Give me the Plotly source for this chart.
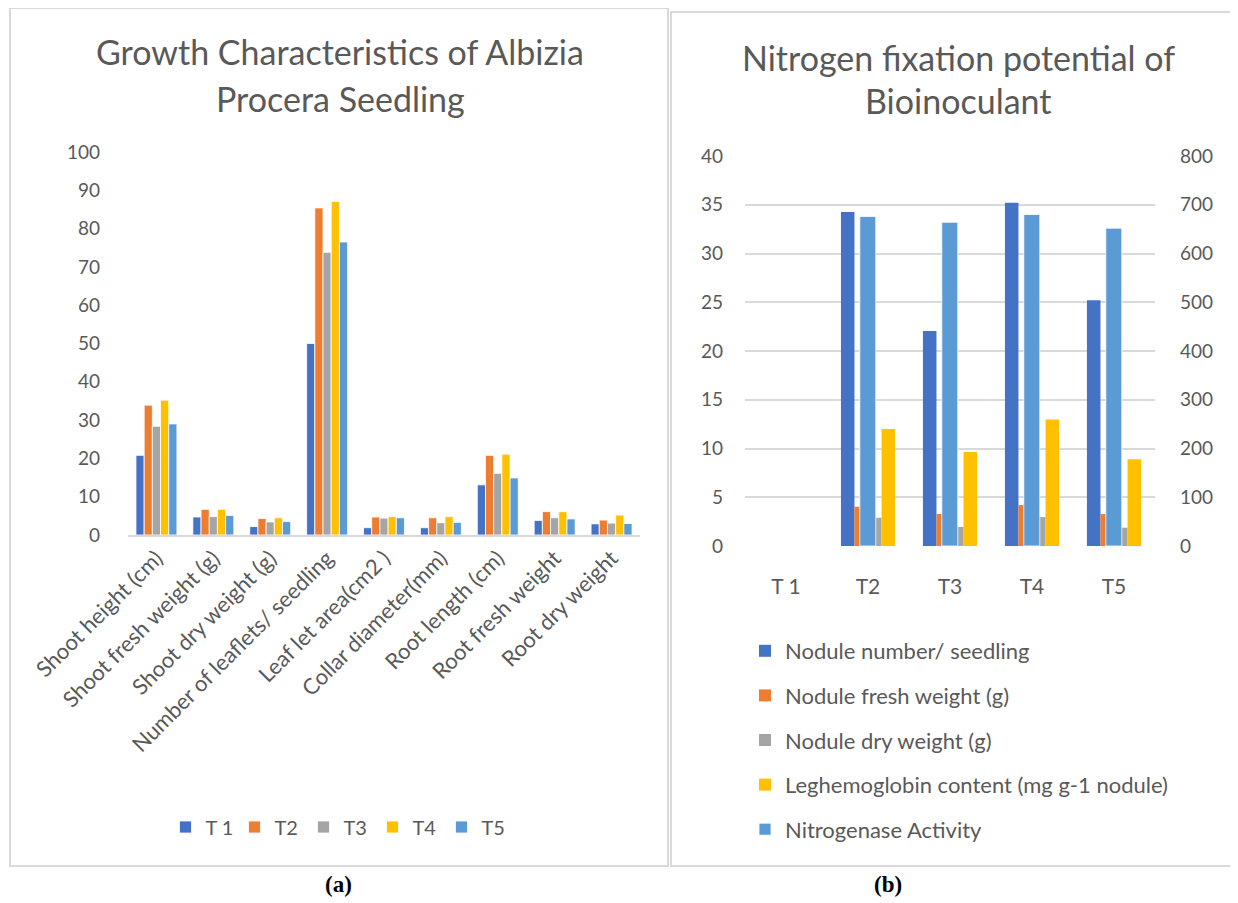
import plotly.graph_objects as go

# ---------------- data: chart (a) ----------------
growth_categories = ["Shoot height (cm)", "Shoot fresh weight (g)", "Shoot dry weight (g)",
                     "Number of leaflets/ seedling", "Leaf let area(cm2 )", "Collar diameter(mm)",
                     "Root length (cm)", "Root fresh weight", "Root dry weight"]
growth_series = ["T 1", "T2", "T3", "T4", "T5"]
growth_T1 = [20.8, 4.7, 2.2, 50.0, 1.9, 1.9, 13.1, 3.8, 2.9]
growth_T2 = [33.9, 6.7, 4.3, 85.4, 4.7, 4.5, 20.8, 6.1, 3.9]
growth_T3 = [28.4, 4.8, 3.4, 73.8, 4.4, 3.2, 16.1, 4.5, 3.1]
growth_T4 = [35.2, 6.7, 4.5, 87.1, 4.8, 4.8, 21.1, 6.1, 5.2]
growth_T5 = [29.0, 5.1, 3.5, 76.5, 4.5, 3.3, 14.9, 4.2, 3.0]
growth_values = [growth_T1, growth_T2, growth_T3, growth_T4, growth_T5]
growth_yticks = list(range(0, 101, 10))

# ---------------- data: chart (b) ----------------
treatments = ["T 1", "T2", "T3", "T4", "T5"]
nodule_number = [0, 34.25, 22.06, 35.2, 25.2]
nodule_fresh = [0, 4.03, 3.28, 4.2, 3.28]
nodule_dry = [0, 2.9, 1.95, 2.97, 1.88]
leghemoglobin = [0, 12.0, 9.63, 12.98, 8.9]
nitrogenase = [0, 676, 664, 680, 652]
primary_names = ["Nodule number/ seedling", "Nodule fresh weight (g)",
                 "Nodule dry weight (g)", "Leghemoglobin content (mg g-1 nodule)"]
secondary_name = "Nitrogenase Activity"
primary_values = [nodule_number, nodule_fresh, nodule_dry, leghemoglobin]

colors = ["#4472C4", "#ED7D31", "#A5A5A5", "#FFC000", "#5B9BD5"]
TXT = "#595959"
FONT = "Lato"
OFF = 8                # default page body margin
W, H = 1238 - OFF, 903 - OFF

def px(x):
    return (x - OFF) / W

def py(y):
    return 1 - (y - OFF) / H

fig = go.Figure()

for name, vals, col in zip(growth_series, growth_values, colors):
    fig.add_trace(go.Bar(x=growth_categories, y=vals, name=name, marker_color=col,
                         marker_line_color="white", marker_line_width=0.8,
                         xaxis="x", yaxis="y", legend="legend"))

pw = 0.165
for i, (name, vals) in enumerate(zip(primary_names, primary_values)):
    fig.add_trace(go.Bar(x=treatments, y=vals, name=name, marker_color=colors[i],
                         marker_line_width=0, width=pw, offset=-0.33 + i * pw,
                         xaxis="x2", yaxis="y2", legend="legend2", legendgroup=name))
fig.add_trace(go.Bar(x=treatments, y=nitrogenase, name=secondary_name, marker_color=colors[4],
                     marker_line_color="white", marker_line_width=0.8,
                     width=0.195, offset=-0.1,
                     xaxis="x2", yaxis="y3", legend="legend2", legendgroup=secondary_name))

numfont = dict(family=FONT, size=19, color=TXT)

fig.update_layout(
    template="none",
    width=W, height=H, autosize=False,
    margin=dict(l=0, r=0, t=0, b=0, autoexpand=False),
    paper_bgcolor="white", plot_bgcolor="white",
    barmode="group", bargap=0.28, bargroupgap=0,
    font=dict(family=FONT, color=TXT),
    xaxis=dict(domain=[px(128), px(640)], anchor="y", type="category", automargin=False,
               tickangle=-45, tickfont=dict(family=FONT, size=22, color=TXT),
               showline=True, linecolor="#d9d9d9", linewidth=1.5, ticks="",
               showgrid=False, zeroline=False),
    yaxis=dict(domain=[py(535), py(152)], anchor="x", range=[0, 100], automargin=False,
               tickvals=growth_yticks, tickfont=numfont, showgrid=False,
               zeroline=False, showline=False, ticks="", ticklabelstandoff=27),
    xaxis2=dict(domain=[px(745), px(1155)], anchor="y2", type="category", automargin=False,
                tickfont=dict(family=FONT, size=21, color=TXT), showline=False, ticks="",
                showgrid=False, zeroline=False, ticklabelstandoff=26),
    yaxis2=dict(domain=[py(546), py(156)], anchor="x2", range=[0, 40], dtick=5,
                automargin=False,
                tickfont=numfont, showgrid=True, gridcolor="#d9d9d9", gridwidth=1.5,
                zeroline=False, showline=False, ticks="", ticklabelstandoff=21),
    yaxis3=dict(overlaying="y2", anchor="x2", side="right", range=[0, 800], dtick=100,
                automargin=False,
                tickfont=numfont, showgrid=False, zeroline=False, showline=False, ticks="",
                ticklabelstandoff=24),
    legend=dict(orientation="h", x=px(338), y=py(827), xanchor="center", yanchor="middle",
                font=dict(family=FONT, size=20, color=TXT), bgcolor="rgba(0,0,0,0)",
                itemwidth=30, entrywidth=24, entrywidthmode="pixels", traceorder="normal"),
    legend2=dict(orientation="v", x=px(745), y=py(630), xanchor="left", yanchor="top",
                 font=dict(family=FONT, size=22, color=TXT), bgcolor="rgba(0,0,0,0)",
                 traceorder="grouped", tracegroupgap=13, itemwidth=30),
    shapes=[
        dict(type="rect", xref="paper", yref="paper", x0=px(10), x1=px(668),
             y0=py(866), y1=py(8), line=dict(color="#d9d9d9", width=2)),
        dict(type="rect", xref="paper", yref="paper", x0=px(671), x1=1.02,
             y0=py(866), y1=py(12), line=dict(color="#d9d9d9", width=2)),
    ],
    annotations=[
        dict(text="Growth Characteristics of Albizia", x=px(340), y=py(52), xref="paper",
             yref="paper", showarrow=False, xanchor="center", yanchor="middle",
             font=dict(family=FONT, size=34, color=TXT)),
        dict(text="Procera Seedling", x=px(340), y=py(98), xref="paper",
             yref="paper", showarrow=False, xanchor="center", yanchor="middle",
             font=dict(family=FONT, size=34, color=TXT)),
        dict(text="Nitrogen fixation potential of", x=px(958), y=py(57), xref="paper",
             yref="paper", showarrow=False, xanchor="center", yanchor="middle",
             font=dict(family=FONT, size=34, color=TXT)),
        dict(text="Bioinoculant", x=px(958), y=py(101), xref="paper",
             yref="paper", showarrow=False, xanchor="center", yanchor="middle",
             font=dict(family=FONT, size=34, color=TXT)),
        dict(text="<b>(a)</b>", x=px(338), y=py(884), xref="paper", yref="paper",
             showarrow=False, xanchor="center", yanchor="middle",
             font=dict(family="Liberation Serif", size=23, color="black")),
        dict(text="<b>(b)</b>", x=px(888), y=py(884), xref="paper", yref="paper",
             showarrow=False, xanchor="center", yanchor="middle",
             font=dict(family="Liberation Serif", size=23, color="black")),
    ],
)

fig.write_html("out.html")
